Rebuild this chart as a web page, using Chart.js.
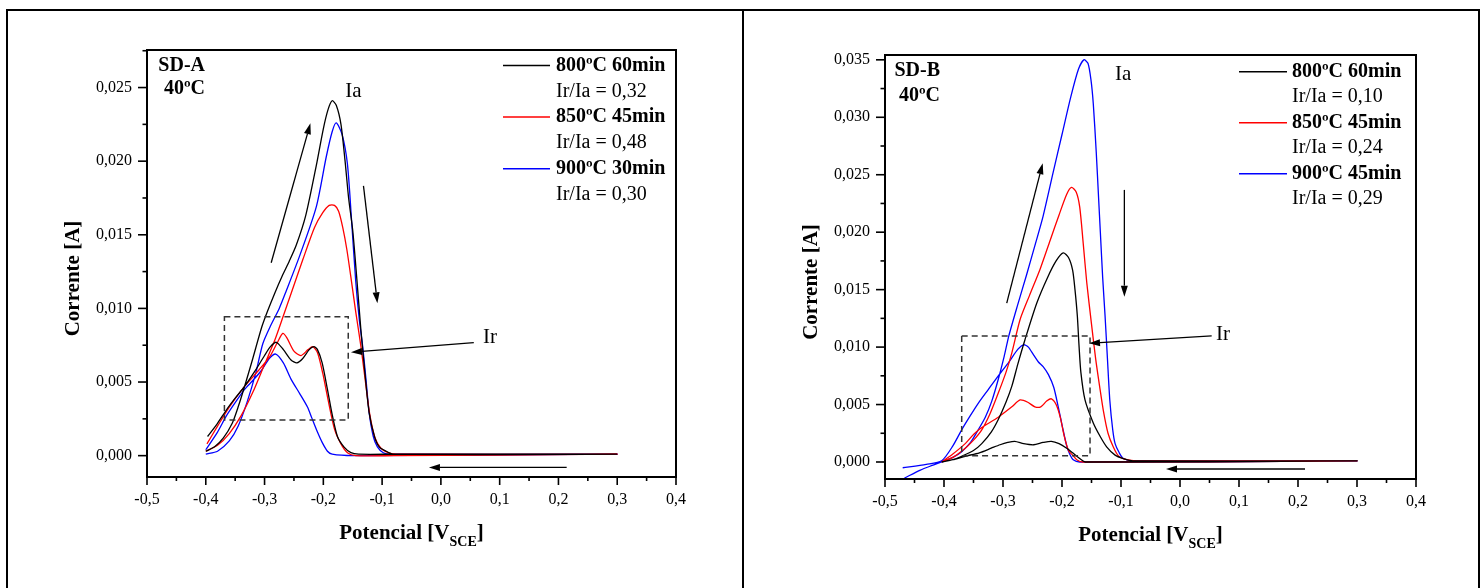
<!DOCTYPE html>
<html>
<head>
<meta charset="utf-8">
<script src="https://cdn.jsdelivr.net/npm/chart.js@4.4.1/dist/chart.umd.min.js"></script>
<style>
  html, body { margin: 0; padding: 0; background: #fff; }
  #wrap { position: relative; width: 1484px; height: 588px; overflow: hidden; }
  #frame { position: absolute; left: 6px; top: 9px; width: 1470px; height: 600px; border: 2px solid #000; }
  #divider { position: absolute; left: 742px; top: 9px; width: 2px; height: 600px; background: #000; }
  canvas { position: absolute; top: 0; }
</style>
</head>
<body>
<div id="wrap">
  <div id="frame"></div>
  <div id="divider"></div>
  <canvas id="chartA" width="742" height="588" style="left:0px"></canvas>
  <canvas id="chartB" width="742" height="588" style="left:742px"></canvas>
</div>
<script>
// legend texts
var legendA = ['800ºC 60min', '850ºC 45min', '900ºC 30min'];
var ratioA = ['Ir/Ia = 0,32', 'Ir/Ia = 0,48', 'Ir/Ia = 0,30'];
var legendB = ['800ºC 60min', '850ºC 45min', '900ºC 45min'];
var ratioB = ['Ir/Ia = 0,10', 'Ir/Ia = 0,24', 'Ir/Ia = 0,29'];
var lineColors = ['#000000', '#ff0000', '#0000ff'];

// SD-A curves: potential [V] and current [A], in scan order (forward then back)
var potA800 = [-0.400,-0.385,-0.370,-0.355,-0.345,-0.334,-0.320,-0.305,-0.295,-0.283,-0.270,-0.258,-0.246,-0.230,-0.212,-0.200,-0.192,-0.185,-0.178,-0.170,-0.163,-0.157,-0.150,-0.143,-0.136,-0.129,-0.122,-0.113,-0.105,-0.093,-0.080,0.300,
               -0.080,-0.140,-0.153,-0.165,-0.176,-0.185,-0.193,-0.202,-0.210,-0.216,-0.224,-0.235,-0.245,-0.255,-0.268,-0.280,-0.290,-0.300,-0.317,-0.334,-0.350,-0.365,-0.380,-0.397];
var curA800 = [0.0003,0.0006,0.0012,0.0022,0.0033,0.0047,0.0066,0.0087,0.0098,0.0110,0.0122,0.0132,0.0143,0.0163,0.0197,0.0222,0.0235,0.0241,0.0238,0.0225,0.0200,0.0175,0.0153,0.0120,0.0085,0.0055,0.0029,0.0013,0.0006,0.0003,0.0001,0.0001,
               0.0001,0.0001,0.0002,0.0006,0.0013,0.0028,0.0045,0.0063,0.0072,0.0074,0.0072,0.0066,0.0063,0.0065,0.0072,0.0077,0.0074,0.0068,0.0057,0.0047,0.0039,0.0031,0.0022,0.0013];

var potA850 = [-0.400,-0.380,-0.360,-0.340,-0.320,-0.300,-0.283,-0.268,-0.255,-0.235,-0.215,-0.201,-0.190,-0.181,-0.174,-0.167,-0.160,-0.152,-0.145,-0.136,-0.128,-0.121,-0.112,-0.102,-0.090,-0.077,0.300,
               -0.080,-0.145,-0.159,-0.170,-0.181,-0.192,-0.201,-0.210,-0.218,-0.226,-0.238,-0.250,-0.262,-0.269,-0.278,-0.290,-0.310,-0.334,-0.360,-0.380,-0.398];
var curA850 = [0.0003,0.0007,0.0015,0.0027,0.0043,0.0062,0.0078,0.0095,0.0110,0.0133,0.0155,0.0165,0.0170,0.0170,0.0166,0.0155,0.0140,0.0118,0.0098,0.0074,0.0049,0.0028,0.0012,0.0005,0.0002,0.0001,0.0001,
               0.0000,0.0000,0.0002,0.0008,0.0018,0.0038,0.0056,0.0070,0.0074,0.0072,0.0068,0.0071,0.0080,0.0083,0.0077,0.0068,0.0058,0.0047,0.0033,0.0020,0.0008];

var potA900 = [-0.400,-0.380,-0.360,-0.345,-0.330,-0.315,-0.303,-0.290,-0.275,-0.263,-0.240,-0.212,-0.195,-0.185,-0.178,-0.168,-0.159,-0.152,-0.145,-0.139,-0.133,-0.127,-0.122,-0.115,-0.108,-0.098,-0.085,0.300,
               -0.150,-0.185,-0.193,-0.202,-0.210,-0.220,-0.227,-0.240,-0.255,-0.268,-0.281,-0.292,-0.305,-0.320,-0.334,-0.350,-0.365,-0.380,-0.400];
var curA900 = [0.0001,0.0003,0.0010,0.0020,0.0036,0.0056,0.0076,0.0088,0.0100,0.0112,0.0136,0.0169,0.0203,0.0220,0.0226,0.0218,0.0198,0.0160,0.0119,0.0093,0.0074,0.0050,0.0029,0.0013,0.0006,0.0002,0.0001,0.0001,
               0.0000,0.0001,0.0003,0.0009,0.0016,0.0026,0.0033,0.0042,0.0052,0.0063,0.0069,0.0066,0.0058,0.0051,0.0045,0.0036,0.0027,0.0016,0.0004];

// SD-B curves
var potB800 = [-0.404,-0.385,-0.370,-0.350,-0.336,-0.320,-0.308,-0.295,-0.285,-0.275,-0.263,-0.243,-0.225,-0.210,-0.198,-0.189,-0.182,-0.178,-0.174,-0.171,-0.168,-0.161,-0.147,-0.135,-0.124,-0.110,-0.096,-0.080,0.300,
               -0.160,-0.170,-0.182,-0.192,-0.205,-0.218,-0.232,-0.248,-0.265,-0.280,-0.292,-0.305,-0.320,-0.340,-0.364,-0.385,-0.404];
var curB800 = [0.0000,0.0002,0.0005,0.0010,0.0016,0.0026,0.0037,0.0052,0.0066,0.0085,0.0106,0.0138,0.0160,0.0175,0.0182,0.0178,0.0167,0.0150,0.0127,0.0100,0.0078,0.0054,0.0034,0.0022,0.0013,0.0006,0.0003,0.0001,0.0001,
               0.0000,0.0003,0.0008,0.0012,0.0016,0.0018,0.0017,0.0015,0.0016,0.0018,0.0017,0.0015,0.0012,0.0008,0.0005,0.0002,0.0000];

var potB850 = [-0.404,-0.385,-0.364,-0.350,-0.336,-0.322,-0.308,-0.295,-0.285,-0.271,-0.255,-0.237,-0.220,-0.205,-0.192,-0.184,-0.176,-0.170,-0.164,-0.158,-0.150,-0.143,-0.136,-0.130,-0.122,-0.113,-0.104,-0.090,-0.075,0.300,
               -0.165,-0.175,-0.182,-0.189,-0.196,-0.203,-0.210,-0.218,-0.226,-0.236,-0.246,-0.258,-0.271,-0.285,-0.308,-0.336,-0.350,-0.364,-0.385,-0.404];
var curB850 = [0.0000,0.0004,0.0012,0.0019,0.0028,0.0042,0.0060,0.0078,0.0095,0.0124,0.0145,0.0168,0.0193,0.0215,0.0233,0.0239,0.0235,0.0222,0.0190,0.0156,0.0120,0.0090,0.0065,0.0045,0.0025,0.0013,0.0005,0.0002,0.0001,0.0001,
               0.0000,0.0002,0.0006,0.0010,0.0022,0.0039,0.0050,0.0055,0.0053,0.0048,0.0048,0.0052,0.0054,0.0048,0.0039,0.0030,0.0024,0.0016,0.0007,0.0000];

var potB900 = [-0.467,-0.440,-0.420,-0.404,-0.385,-0.370,-0.355,-0.342,-0.330,-0.319,-0.308,-0.298,-0.290,-0.275,-0.260,-0.245,-0.232,-0.215,-0.200,-0.185,-0.172,-0.163,-0.156,-0.151,-0.147,-0.142,-0.138,-0.135,-0.131,-0.127,-0.123,-0.119,-0.114,-0.110,-0.103,-0.096,-0.080,0.300,
               -0.170,-0.181,-0.187,-0.192,-0.199,-0.206,-0.214,-0.223,-0.232,-0.240,-0.248,-0.257,-0.265,-0.275,-0.290,-0.308,-0.325,-0.342,-0.357,-0.370,-0.385,-0.404,-0.430,-0.470];
var curB900 = [-0.0014,-0.0007,-0.0003,0.0000,0.0004,0.0009,0.0017,0.0028,0.0039,0.0053,0.0072,0.0092,0.0110,0.0137,0.0163,0.0190,0.0214,0.0252,0.0285,0.0318,0.0342,0.0350,0.0347,0.0333,0.0312,0.0270,0.0230,0.0200,0.0160,0.0127,0.0090,0.0054,0.0028,0.0016,0.0008,0.0003,0.0001,0.0001,
               0.0000,0.0002,0.0007,0.0014,0.0030,0.0047,0.0065,0.0076,0.0083,0.0087,0.0093,0.0100,0.0102,0.0098,0.0087,0.0075,0.0063,0.0051,0.0039,0.0028,0.0014,0.0001,-0.0002,-0.0005];

var serif = '"Liberation Serif", "Times New Roman", serif';

function toPoints(pot, cur) {
  var pts = [];
  for (var k = 0; k < pot.length; k++) {
    pts.push({x: pot[k], y: cur[k]});
  }
  return pts;
}

function fmtX(v) {
  var r = Math.round(v * 20);
  if (r % 2 !== 0) return '';
  var val = r / 20;
  if (val === 0) val = 0;
  return val.toFixed(1).replace('.', ',');
}

function fmtY(v) {
  var r = Math.round(v / 0.0025);
  if (r % 2 !== 0) return '';
  return (r * 0.0025).toFixed(3).replace('.', ',');
}

function arrow(ctx, x0, y0, x1, y1) {
  var ang = Math.atan2(y1 - y0, x1 - x0);
  var len = 11, half = 3.5;
  var bx = x1 - len * Math.cos(ang), by = y1 - len * Math.sin(ang);
  ctx.beginPath();
  ctx.moveTo(x0, y0);
  ctx.lineTo(bx, by);
  ctx.stroke();
  ctx.beginPath();
  ctx.moveTo(x1, y1);
  ctx.lineTo(bx + half * Math.sin(ang), by - half * Math.cos(ang));
  ctx.lineTo(bx - half * Math.sin(ang), by + half * Math.cos(ang));
  ctx.closePath();
  ctx.fill();
}

// frame, ticks, annotations, legend and axis titles
var decor = {
  id: 'decor',
  afterDraw: function(chart, args, o) {
    var ctx = chart.ctx, a = chart.chartArea;
    var xs = chart.scales.x, ys = chart.scales.y;
    ctx.save();
    ctx.strokeStyle = '#000';
    ctx.fillStyle = '#000';
    ctx.lineWidth = 2;
    ctx.strokeRect(a.left, a.top, a.right - a.left, a.bottom - a.top);

    ctx.lineWidth = 1.6;
    xs.ticks.forEach(function(t) {
      var px = xs.getPixelForValue(t.value);
      var major = Math.round(t.value * 20) % 2 === 0;
      ctx.beginPath();
      ctx.moveTo(px, a.bottom);
      ctx.lineTo(px, a.bottom + (major ? 8 : 4));
      ctx.stroke();
    });
    ys.ticks.forEach(function(t) {
      var py = ys.getPixelForValue(t.value);
      var major = Math.round(t.value / 0.0025) % 2 === 0;
      ctx.beginPath();
      ctx.moveTo(a.left, py);
      ctx.lineTo(a.left - (major ? 9 : 4.5), py);
      ctx.stroke();
    });

    // dashed box
    ctx.strokeStyle = '#333';
    ctx.lineWidth = 1.5;
    ctx.setLineDash([6, 4]);
    var bx0 = xs.getPixelForValue(o.box[0]), bx1 = xs.getPixelForValue(o.box[1]);
    var by0 = ys.getPixelForValue(o.box[2]), by1 = ys.getPixelForValue(o.box[3]);
    ctx.strokeRect(bx0, by1, bx1 - bx0, by0 - by1);
    ctx.setLineDash([]);

    // arrows
    ctx.strokeStyle = '#000';
    ctx.lineWidth = 1.3;
    o.arrows.forEach(function(ar) {
      arrow(ctx, xs.getPixelForValue(ar[0]), ys.getPixelForValue(ar[1]),
                 xs.getPixelForValue(ar[2]), ys.getPixelForValue(ar[3]));
    });

    ctx.textBaseline = 'middle';
    ctx.textAlign = 'left';
    ctx.font = '21px ' + serif;
    o.marks.forEach(function(m) {
      ctx.fillText(m[0], xs.getPixelForValue(m[1]), ys.getPixelForValue(m[2]));
    });

    // sample name
    ctx.font = 'bold 20px ' + serif;
    ctx.textAlign = 'right';
    ctx.fillText(o.name[0], a.left + o.nameRight, a.top + 16);
    ctx.fillText(o.name[1], a.left + o.nameRight, a.top + o.nameGap);

    // legend
    ctx.textAlign = 'left';
    for (var k = 0; k < o.legend.length; k++) {
      var ly = a.top + o.legTop + k * 2 * o.legStep;
      ctx.strokeStyle = lineColors[k];
      ctx.lineWidth = 1.5;
      ctx.beginPath();
      ctx.moveTo(a.right - o.legLine[0], ly);
      ctx.lineTo(a.right - o.legLine[1], ly);
      ctx.stroke();
      ctx.font = 'bold 20px ' + serif;
      ctx.fillText(o.legend[k], a.right - o.legText, ly);
      ctx.font = '20px ' + serif;
      ctx.fillText(o.ratio[k], a.right - o.legText, ly + o.legStep);
    }

    // x title with subscript
    var cx = (a.left + a.right) / 2;
    var main = 'Potencial [V', sub = 'SCE', end = ']';
    ctx.textBaseline = 'alphabetic';
    ctx.font = 'bold 21px ' + serif;
    var w1 = ctx.measureText(main).width, w3 = ctx.measureText(end).width;
    ctx.font = 'bold 14px ' + serif;
    var w2 = ctx.measureText(sub).width;
    var sx = cx - (w1 + w2 + w3) / 2;
    var base = a.bottom + 62;
    ctx.font = 'bold 21px ' + serif;
    ctx.fillText(main, sx, base);
    ctx.font = 'bold 14px ' + serif;
    ctx.fillText(sub, sx + w1, base + 6.5);
    ctx.font = 'bold 21px ' + serif;
    ctx.fillText(end, sx + w1 + w2, base);

    // y title
    ctx.translate(a.left - 73, (a.top + a.bottom) / 2 + 15);
    ctx.rotate(-Math.PI / 2);
    ctx.textAlign = 'center';
    ctx.textBaseline = 'middle';
    ctx.fillText('Corrente [A]', 0, 0);
    ctx.restore();
  }
};

function buildChart(id, series, legend, ratio, yMax, yMin, pad, deco) {
  var datasets = [];
  for (var k = 0; k < series.length; k++) {
    datasets.push({
      label: legend[k],
      data: toPoints(series[k][0], series[k][1]),
      showLine: true,
      borderColor: lineColors[k],
      borderWidth: 1.3,
      pointRadius: 0,
      tension: 0.25,
      fill: false
    });
  }
  deco.legend = legend;
  deco.ratio = ratio;
  return new Chart(document.getElementById(id), {
    type: 'scatter',
    data: { datasets: datasets },
    options: {
      responsive: false,
      animation: false,
      events: [],
      layout: { padding: { left: pad[0], right: pad[1], top: pad[2], bottom: pad[3] } },
      plugins: { legend: { display: false }, tooltip: { enabled: false }, decor: deco },
      scales: {
        x: {
          type: 'linear', min: -0.5, max: 0.4,
          grid: { display: false, drawTicks: false },
          border: { display: false },
          ticks: { stepSize: 0.05, includeBounds: false, autoSkip: false, maxRotation: 0,
                   padding: 13, color: '#000', font: { family: serif, size: 16 }, callback: fmtX },
          afterFit: function(s) { s.height = 60; }
        },
        y: {
          type: 'linear', min: yMin, max: yMax,
          grid: { display: false, drawTicks: false },
          border: { display: false },
          ticks: { stepSize: 0.0025, includeBounds: false, autoSkip: false,
                   padding: 15, color: '#000', font: { family: serif, size: 16 }, callback: fmtY },
          afterFit: function(s) { s.width = pad[4]; }
        }
      }
    },
    plugins: [decor]
  });
}

buildChart('chartA',
  [[potA800, curA800], [potA850, curA850], [potA900, curA900]],
  legendA, ratioA, 0.02755, -0.00145, [10, 66, 50, 51, 137],
  {
    box: [-0.3683, -0.1576, 0.00242, 0.00944],
    arrows: [[-0.2887, 0.0131, -0.222, 0.02257], [-0.1317, 0.01832, -0.108, 0.01035],
             [0.056, 0.00767, -0.153, 0.00702], [0.214, -0.0008, -0.0203, -0.0008]],
    marks: [['Ia', -0.1627, 0.02472], ['Ir', 0.0717, 0.00802]],
    name: ['SD-A', '40ºC'], nameRight: 58, nameGap: 39,
    legTop: 15.5, legStep: 25.8, legLine: [173, 126], legText: 120
  });

buildChart('chartB',
  [[potB800, curB800], [potB850, curB850], [potB900, curB900]],
  legendB, ratioB, 0.03542, -0.00148, [10, 68, 55, 49, 133],
  {
    box: [-0.37, -0.1525, 0.00055, 0.01097],
    arrows: [[-0.2937, 0.01382, -0.2327, 0.026], [-0.0943, 0.02368, -0.0943, 0.01439],
             [0.0537, 0.01097, -0.1542, 0.01033], [0.2119, -0.00061, -0.0237, -0.00061]],
    marks: [['Ia', -0.1102, 0.03369], ['Ir', 0.061, 0.01114]],
    name: ['SD-B', '40ºC'], nameRight: 55, nameGap: 41,
    legTop: 16.7, legStep: 25.5, legLine: [177, 129], legText: 124
  });
</script>
</body>
</html>
